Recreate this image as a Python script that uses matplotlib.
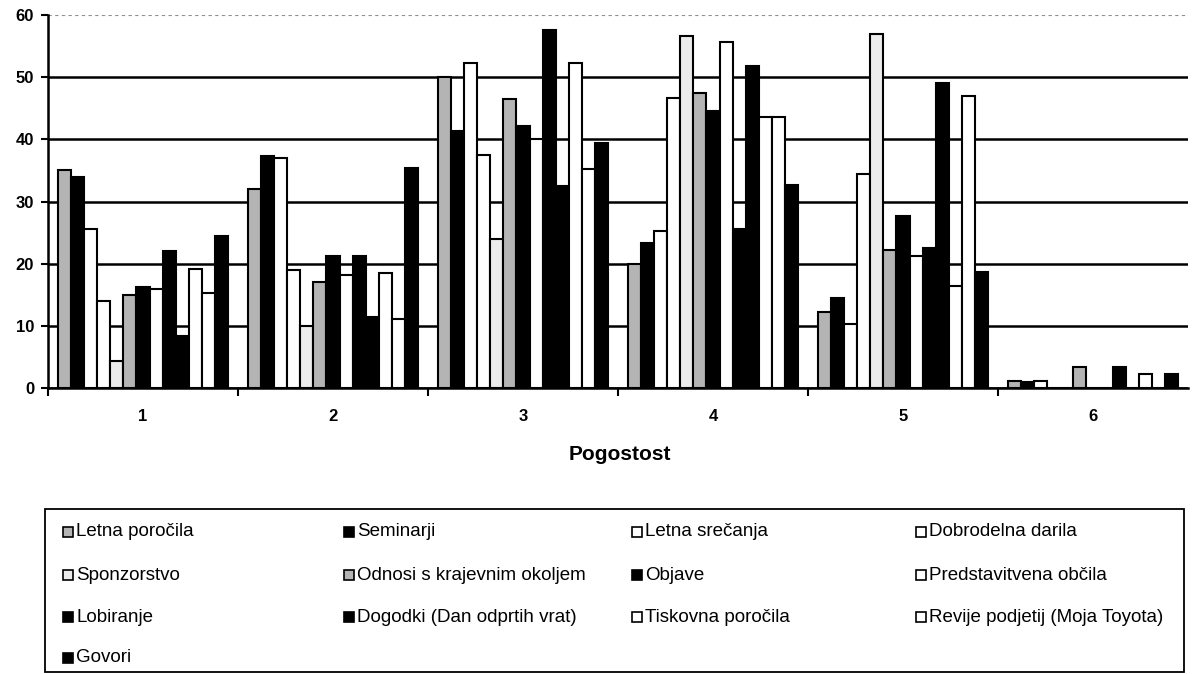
import numpy as np
import matplotlib
matplotlib.use('Agg')
import matplotlib.pyplot as plt
from matplotlib.patches import Rectangle

plt.rcParams['font.family'] = ['Liberation Sans', 'DejaVu Sans']

groups = ['1', '2', '3', '4', '5', '6']

names = ['Letna poročila', 'Seminarji', 'Letna srečanja', 'Dobrodelna darila',
         'Sponzorstvo', 'Odnosi s krajevnim okoljem', 'Objave', 'Predstavitvena občila',
         'Lobiranje', 'Dogodki (Dan odprtih vrat)', 'Tiskovna poročila',
         'Revije podjetij (Moja Toyota)', 'Govori']

letna_porocila = [35, 32, 50, 20, 12.2, 1.2]
seminarji = [34, 37.3, 41.4, 23.3, 14.4, 1.0]
letna_srecanja = [25.5, 37, 52.3, 25.3, 10.3, 1.2]
dobrodelna = [14, 19, 37.5, 46.6, 34.4, 0]
sponzorstvo = [4.3, 10, 24, 56.6, 56.9, 0]
odnosi = [15, 17, 46.5, 47.5, 22.2, 3.3]
objave = [16.3, 21.3, 42.2, 44.5, 27.6, 0]
predstavitvena = [16, 18.2, 40, 55.6, 21.2, 0]
lobiranje = [22, 21.3, 57.6, 25.5, 22.6, 3.3]
dogodki = [8.3, 11.4, 32.5, 51.8, 49, 0]
tiskovna = [19.2, 18.5, 52.3, 43.6, 16.4, 2.2]
revije = [15.3, 11.1, 35.3, 43.6, 46.9, 0]
govori = [24.5, 35.4, 39.4, 32.7, 18.7, 2.3]

series = [letna_porocila, seminarji, letna_srecanja, dobrodelna, sponzorstvo, odnosi,
          objave, predstavitvena, lobiranje, dogodki, tiskovna, revije, govori]

GRAY = '#b4b4b4'
colors = [GRAY, 'black', 'white', 'white', '#ececec', GRAY, 'black', 'white',
          'black', 'black', 'white', 'white', 'black']

W, H = 1194, 674
fig = plt.figure(figsize=(W / 100, H / 100), dpi=100)
ax = fig.add_axes([48 / W, 1 - 388 / H, 1140 / W, 373 / H])

x = np.arange(len(groups))
w = 1 / 14.5
for i, vals in enumerate(series):
    ax.bar(x + (i - 6) * w, vals, w, color=colors[i], edgecolor='black',
           linewidth=1.5, zorder=3, label=names[i])

ax.set_xlim(-0.5, 5.5)
ax.set_ylim(0, 60)
ax.set_yticks(range(0, 70, 10))
ax.yaxis.grid(True, color='black', linewidth=1.8, zorder=0)
gl = ax.get_ygridlines()
gl[-1].set_color('#909090')
gl[-1].set_linestyle((0, (3, 3)))
gl[-1].set_linewidth(0.8)

ax.set_xticks(x)
ax.set_xticklabels(groups)
ax.set_xticks(np.arange(-0.5, 5.0, 1.0), minor=True)
ax.tick_params(axis='x', which='major', length=0, pad=15, labelsize=12)
ax.tick_params(axis='x', which='minor', length=6, width=1.5, direction='out')
ax.tick_params(axis='y', length=5, width=1.5, pad=5, labelsize=12)
for t in ax.get_xticklabels() + ax.get_yticklabels():
    t.set_fontweight('bold')

for s in ['top', 'right']:
    ax.spines[s].set_visible(False)
for s in ['left', 'bottom']:
    ax.spines[s].set_linewidth(1.8)
ax.spines['bottom'].set_zorder(4)

fig.text(620 / W, 1 - 455 / H, 'Pogostost', ha='center', va='center',
         fontsize=15, fontweight='bold')

# legend drawn by hand, four columns at fixed places like the original
lx0, ly0, lx1, ly1 = 45, 509, 1184, 672
fig.patches.append(Rectangle((lx0 / W, 1 - ly1 / H), (lx1 - lx0) / W, (ly1 - ly0) / H,
                             transform=fig.transFigure, facecolor='white',
                             edgecolor='black', linewidth=1.3))
col_x = [68, 349, 637, 921]
row_y = [532, 575, 617, 658]
for i, name in enumerate(names):
    cx = col_x[i % 4]
    cy = row_y[i // 4]
    fig.patches.append(Rectangle(((cx - 5) / W, 1 - (cy + 5) / H), 10 / W, 10 / H,
                                 transform=fig.transFigure, facecolor=colors[i],
                                 edgecolor='black', linewidth=1.2))
    fig.text((cx + 8) / W, 1 - cy / H, name, ha='left', va='center', fontsize=13.5)

fig.savefig('out.png', dpi=100)
